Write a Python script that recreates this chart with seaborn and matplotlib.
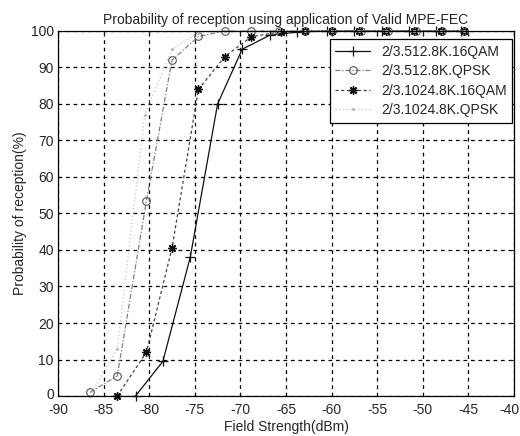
import matplotlib
matplotlib.use("Agg")
import matplotlib.pyplot as plt
import matplotlib.transforms as mtransforms
import seaborn as sns
import pandas as pd

# ---- data ----
labels = ["2/3.512.8K.16QAM", "2/3.512.8K.QPSK", "2/3.1024.8K.16QAM", "2/3.1024.8K.QPSK"]

x_512_16qam = [-81.5, -78.5, -75.5, -72.5, -69.8, -66.8, -63.8, -60.5, -57.5, -54.5, -51.5, -48.5, -45.8]
y_512_16qam = [0, 9.5, 38, 80, 95, 98.8, 99.7, 100, 100, 100, 100, 100, 100]

x_512_qpsk = [-86.5, -83.5, -80.3, -77.5, -74.6, -71.7, -68.8, -65.8, -62.9, -60.0, -56.8, -53.8, -50.8, -47.9, -45.5]
y_512_qpsk = [1, 5.5, 53.5, 92, 98.5, 100, 100, 100, 100, 100, 100, 100, 100, 100, 100]

x_1024_16qam = [-83.5, -80.3, -77.5, -74.6, -71.7, -68.8, -65.6, -62.9, -60.0, -57.0, -54.0, -51.0, -48.0, -45.5]
y_1024_16qam = [0, 12, 40.5, 84, 93, 98.4, 99.8, 100, 100, 100, 100, 100, 100, 100]

x_1024_qpsk = [-86.5, -83.5, -80.5, -77.5, -74.6, -71.7, -68.8, -65.8, -62.9, -60.0, -57.0, -54.0, -51.0, -48.0, -45.5]
y_1024_qpsk = [0, 13, 77, 95, 99.5, 100, 100, 100, 100, 100, 100, 100, 100, 100, 100]

xticks = [-90, -85, -80, -75, -70, -65, -60, -55, -50, -45, -40]
yticks = [0, 10, 20, 30, 40, 50, 60, 70, 80, 90, 100]

title = "Probability of reception using application of Valid MPE-FEC"
xlabel = "Field Strength(dBm)"
ylabel = "Probability of reception(%)"

# ---- style ----
sns.set_theme(style="white")
plt.rcParams["font.family"] = ["Liberation Sans", "DejaVu Sans"]
plt.rcParams["font.size"] = 10

fig = plt.figure(figsize=(5.2, 4.36), dpi=100)
ax = fig.add_axes([0.1115, 0.0917, 0.877, 0.8373])

series = [
    (x_512_16qam, y_512_16qam, labels[0], dict(color="#111111", linestyle="-", marker="+", markersize=7, markeredgewidth=0.9, linewidth=0.9, markerfacecolor="none", markeredgecolor="#111111")),
    (x_512_qpsk, y_512_qpsk, labels[1], dict(color="#808080", linestyle=(0, (4, 1.5, 1, 1.5)), marker="o", markersize=5.5, markeredgewidth=0.8, linewidth=0.9, markerfacecolor="none", markeredgecolor="#555555")),
    (x_1024_16qam, y_1024_16qam, labels[2], dict(color="#444444", linestyle=(0, (2.5, 2)), marker=(8, 2, 0), markersize=6, markeredgewidth=1.0, linewidth=0.9, markerfacecolor="#111111", markeredgecolor="#111111")),
    (x_1024_qpsk, y_1024_qpsk, labels[3], dict(color="#c4c4c4", linestyle=(0, (1, 2)), marker=".", markersize=3, linewidth=0.9, markerfacecolor="#bbbbbb", markeredgecolor="#bbbbbb")),
]

for xs, ys, lab, kw in series:
    df = pd.DataFrame({"x": xs, "y": ys})
    sns.lineplot(data=df, x="x", y="y", ax=ax, label=lab, sort=False, estimator=None, clip_on=False, **kw)

ax.set_xlim(-90, -40)
ax.set_ylim(0, 100)
ax.set_xticks(xticks)
ax.set_yticks(yticks)
ax.set_xticklabels([str(t) for t in xticks], fontsize=10)
ax.set_yticklabels([str(t) for t in yticks], fontsize=10)
ax.grid(True, color="black", linestyle=(0, (3, 3)), linewidth=0.9)
ax.tick_params(axis="x", direction="in", length=3, width=0.8, top=True, pad=5)
ax.tick_params(axis="y", direction="in", length=3, width=0.8, right=True, pad=3)
for s in ax.spines.values():
    s.set_color("black")
    s.set_linewidth(0.9)

# nudge the corner tick labels like the reference
xt = ax.get_xticklabels()
xt[-1].set_transform(xt[-1].get_transform() + mtransforms.ScaledTranslation(-5 / 100, 0, fig.dpi_scale_trans))
yt = ax.get_yticklabels()
yt[0].set_transform(yt[0].get_transform() + mtransforms.ScaledTranslation(0, 3 / 100, fig.dpi_scale_trans))

ax.set_title(title, fontsize=10, pad=5)
ax.set_xlabel(xlabel, fontsize=10, labelpad=2)
ax.set_ylabel(ylabel, fontsize=10, labelpad=3)

leg = ax.legend(loc="upper right", bbox_to_anchor=(0.996, 0.978), fontsize=10,
                frameon=True, fancybox=False, edgecolor="black", framealpha=1,
                borderpad=0.4, labelspacing=0.4, handlelength=2.5, handletextpad=0.8,
                borderaxespad=0.0)
leg.get_frame().set_linewidth(0.9)

fig.savefig("out.png", dpi=100)
